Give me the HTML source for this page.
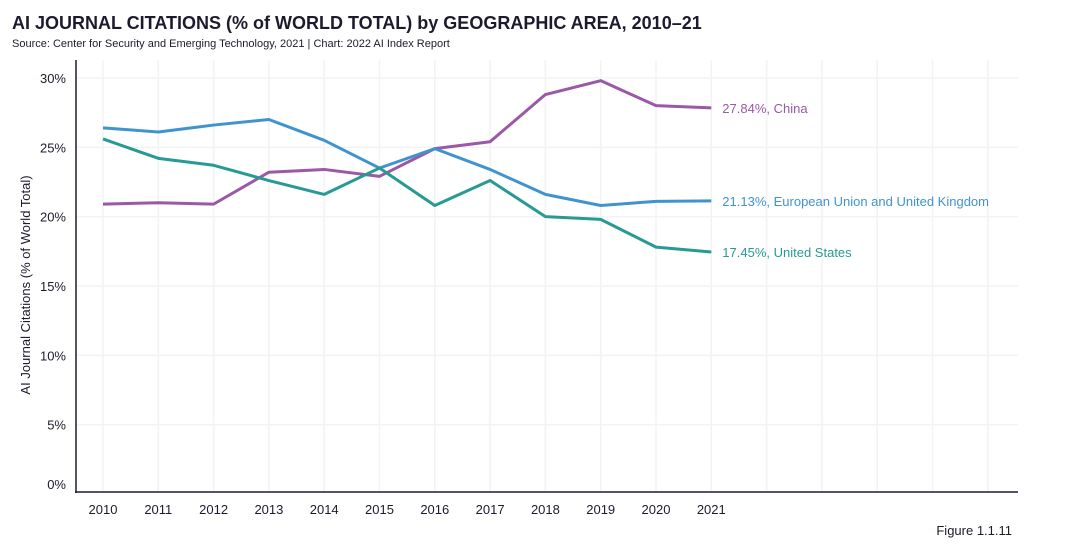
<!DOCTYPE html>
<html><head><meta charset="utf-8">
<style>
body{margin:0;background:#fff;width:1080px;height:543px;overflow:hidden;font-family:"Liberation Sans",sans-serif;}
</style></head>
<body>
<svg width="1080" height="543" font-family="Liberation Sans, sans-serif">
<text x="12" y="29" font-size="18" font-weight="bold" fill="#1e1a2e">AI JOURNAL CITATIONS (% of WORLD TOTAL) by GEOGRAPHIC AREA, 2010–21</text>
<text x="12" y="47" font-size="11" fill="#1e1a2e">Source: Center for Security and Emerging Technology, 2021 | Chart: 2022 AI Index Report</text>
<g id="grid"></g>
<g id="axes"></g>
<g id="series"></g>
<text x="30" y="285" font-size="13" fill="#1e1a2e" text-anchor="middle" transform="rotate(-90 30 285)">AI Journal Citations (% of World Total)</text>
<text x="1012" y="535" font-size="13" fill="#1e1a2e" text-anchor="end">Figure 1.1.11</text>
</svg>
<script>
const years=[2010,2011,2012,2013,2014,2015,2016,2017,2018,2019,2020,2021];
const yTicks=[0,5,10,15,20,25,30];
const china=[20.9,21.0,20.9,23.2,23.4,22.9,24.9,25.4,28.8,29.8,28.0,27.84];
const eu=[26.4,26.1,26.6,27.0,25.5,23.5,24.9,23.4,21.6,20.8,21.1,21.13];
const us=[25.6,24.2,23.7,22.6,21.6,23.5,20.8,22.6,20.0,19.8,17.8,17.45];
const seriesNames=["China","European Union and United Kingdom","United States"];
const NS="http://www.w3.org/2000/svg";
const xS=i=>103+i*55.3;
const yS=v=>494-v*13.87;
function mk(tag,attrs,parent,text){const e=document.createElementNS(NS,tag);for(const k in attrs)e.setAttribute(k,attrs[k]);if(text!==undefined)e.textContent=text;parent.appendChild(e);return e;}
const grid=document.getElementById('grid'),axes=document.getElementById('axes'),ser=document.getElementById('series');
for(let i=0;i<17;i++){const l=mk('line',{x1:xS(i),x2:xS(i),y1:60,y2:492,stroke:'#f3f2f5','stroke-width':1.5},grid);

}
yTicks.forEach(t=>{if(t>0){const l=mk('line',{x1:76,x2:1018,y1:yS(t),y2:yS(t),stroke:'#f3f2f5','stroke-width':1.5},grid);

}
const tx=mk('text',{x:66,y:(t===0?489:yS(t)+5),'font-size':13,fill:'#1e1a2e','text-anchor':'end'},axes,t+'%');

});
years.forEach((y,i)=>{const tx=mk('text',{x:xS(i),y:514,'font-size':13,fill:'#1e1a2e','text-anchor':'middle'},axes,y);

});
const ya=mk('line',{x1:76,x2:76,y1:60,y2:493,stroke:'#1e1a2e','stroke-width':1.5},axes);


const xa=mk('line',{x1:75,x2:1018,y1:492,y2:492,stroke:'#1e1a2e','stroke-width':1.5},axes);


const data=[china,eu,us],colors=['#9a58a6','#3f94d0','#279a94'],keys=['china','eu-uk','us'];
data.forEach((d,s)=>{const p=mk('polyline',{points:d.map((v,i)=>xS(i)+','+yS(v)).join(' '),fill:'none',stroke:colors[s],'stroke-width':3,'stroke-linejoin':'round'},ser);


const last=d[d.length-1];
const t=mk('text',{x:xS(d.length-1)+11,y:yS(last)+5,'font-size':13,fill:colors[s]},ser,last.toFixed(2)+'%, '+seriesNames[s]);

});
</script>
</body></html>
